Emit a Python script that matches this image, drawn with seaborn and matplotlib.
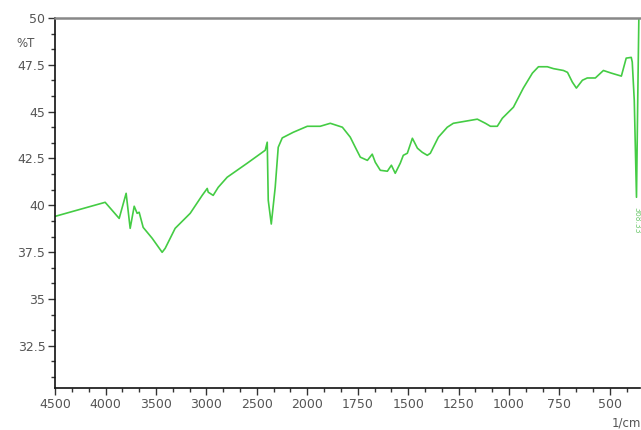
import numpy as np
import pandas as pd
import seaborn as sns
import matplotlib.pyplot as plt
from matplotlib.ticker import FixedLocator, FormatStrFormatter

# wavenumber (1/cm) and transmittance (%T)
wavenumber = [4500, 4004, 3865, 3796, 3756, 3716, 3687, 3667, 3627, 3538,
              3439, 3409, 3310, 3161, 3042, 2992, 2982, 2933, 2883, 2794,
              2595, 2417, 2397, 2387, 2357, 2318, 2288, 2248, 2139, 2000,
              1936, 1886, 1826, 1787, 1762, 1737, 1702, 1678, 1663, 1638,
              1603, 1583, 1564, 1539, 1524, 1504, 1479, 1454, 1430, 1405,
              1390, 1350, 1306, 1276, 1157, 1117, 1092, 1058, 1033, 978,
              929, 884, 854, 810, 780, 730, 710, 686, 666, 636,
              612, 572, 532, 493, 443, 419, 394, 389, 379, 368,
              362, 355]
transmittance = [39.41, 40.16, 39.30, 40.64, 38.77, 39.95, 39.57, 39.63, 38.82, 38.24,
                 37.49, 37.70, 38.77, 39.57, 40.53, 40.90, 40.70, 40.53, 40.96, 41.50,
                 42.25, 42.94, 43.37, 40.27, 39.00, 40.96, 43.10, 43.60, 43.90, 44.22,
                 44.22, 44.38, 44.17, 43.64, 43.10, 42.57, 42.40, 42.73, 42.30, 41.87,
                 41.82, 42.14, 41.71, 42.25, 42.67, 42.78, 43.58, 43.05, 42.83, 42.67,
                 42.78, 43.64, 44.17, 44.38, 44.60, 44.38, 44.22, 44.22, 44.65, 45.24,
                 46.26, 47.06, 47.40, 47.40, 47.30, 47.20, 47.10, 46.58, 46.26, 46.68,
                 46.80, 46.80, 47.20, 47.06, 46.90, 47.86, 47.90, 47.65, 45.60, 40.43,
                 45.50, 51.00]

x_ticks = [4500, 4000, 3500, 3000, 2500, 2000, 1750, 1500, 1250, 1000, 750, 500]
y_ticks = [32.5, 35, 37.5, 40, 42.5, 45, 47.5, 50]
peak_label = "368.33"

df = pd.DataFrame({'wn': wavenumber, 'T': transmittance})


# FTIR style axis: half scale above 2000 1/cm
def fwd(w):
    w = np.asarray(w, dtype=float)
    return np.where(w >= 2000, 2000 + (w - 2000) / 2, w)


def inv(u):
    u = np.asarray(u, dtype=float)
    return np.where(u >= 2000, 2000 + (u - 2000) * 2, u)


sns.set_style('white')
plt.rcParams['font.family'] = ['DejaVu Sans']

fig = plt.figure(figsize=(6.41, 4.30), dpi=100)
ax = fig.add_axes([0.086, 0.098, 0.912, 0.860])

sns.lineplot(data=df, x='wn', y='T', sort=False, color='#44cc44', linewidth=1.2, ax=ax)

ax.set_xscale('function', functions=(fwd, inv))
ax.set_xlim(4500, 352)
ax.set_ylim(30.25, 50)

minor_x = list(np.arange(4500, 2000, -500 / 3)) + list(np.arange(2000, 352, -250 / 3))
ax.xaxis.set_major_locator(FixedLocator(x_ticks))
ax.xaxis.set_minor_locator(FixedLocator(minor_x))
ax.yaxis.set_major_locator(FixedLocator(y_ticks))
ax.yaxis.set_minor_locator(FixedLocator([32.5 + k * 2.5 / 3 for k in range(-2, 22)]))
ax.xaxis.set_major_formatter(FormatStrFormatter('%d'))
ax.yaxis.set_major_formatter(FormatStrFormatter('%g'))

ax.tick_params(axis='both', which='major', direction='out', length=5, width=1,
               colors='#333333', labelsize=9, labelcolor='#555555', pad=2)
ax.tick_params(axis='both', which='minor', direction='out', length=3, width=1,
               colors='#333333')
ax.tick_params(axis='x', which='both', bottom=True)
ax.tick_params(axis='y', which='both', left=True)

for side in ['left', 'bottom']:
    ax.spines[side].set_color('#111111')
    ax.spines[side].set_linewidth(1.2)
ax.spines['top'].set_color('#888888')
ax.spines['top'].set_linewidth(1.8)
ax.spines['right'].set_visible(False)

ax.set_xlabel('')
ax.set_ylabel('')
fig.text(0.026, 0.890, '%T', fontsize=8.5, color='#555555')
fig.text(1.0, 0.0, '1/cm', fontsize=8.5, color='#555555', ha='right', va='bottom')
ax.text(368, 39.9, peak_label, rotation=270, fontsize=5.5, color='#77cc77',
        ha='center', va='top')

fig.savefig('out.png', dpi=100)
